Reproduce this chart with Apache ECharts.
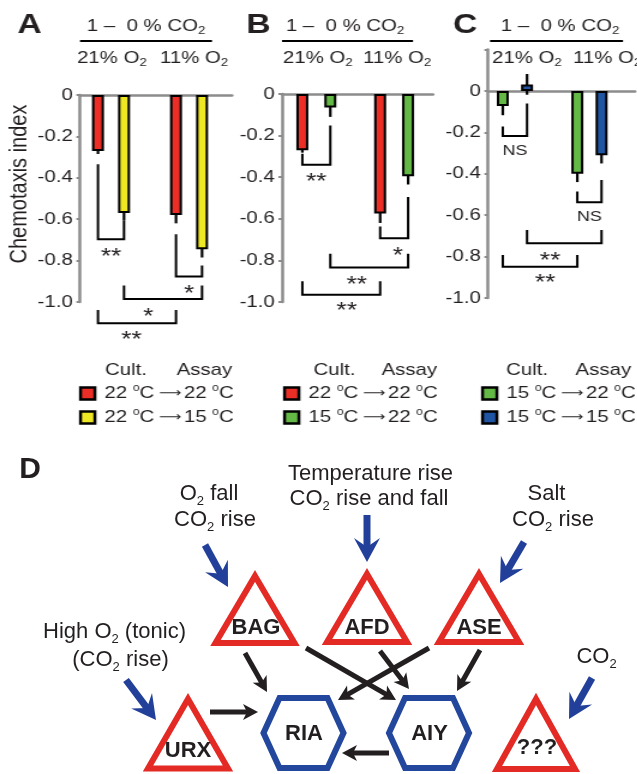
<!DOCTYPE html>
<html><head><meta charset="utf-8">
<script src="https://cdn.jsdelivr.net/npm/echarts/dist/echarts.min.js"></script>
<style>
html,body{margin:0;padding:0;background:#fff;}
#wrap{position:relative;width:637px;height:774px;overflow:hidden;}
#diag{position:absolute;left:0;top:0;width:637px;height:774px;}
#bars{position:absolute;left:0;top:0;width:531px;height:440px;transform:scaleX(1.2);transform-origin:0 0;}
</style>
</head><body><div id="wrap"><div id="diag"></div><div id="bars"></div></div>
<script>
const FONT = "'Liberation Sans', Arial, Helvetica, sans-serif";
const INK = '#231F20';
const S = 1.2;                 // horizontal stretch of panels A-C
const X = px => px / S;

// ================= DATA =================
const groupNames = ['21% O2', '11% O2'];
const NAME_22_22 = '22 °C → 22 °C';
const NAME_22_15 = '22 °C → 15 °C';
const NAME_15_22 = '15 °C → 22 °C';
const NAME_15_15 = '15 °C → 15 °C';

// Panel A
const aRed = [-0.27, -0.58];
const aRedErr = [0.015, 0.04];
const aYellow = [-0.57, -0.745];
const aYellowErr = [0.035, 0.04];
// Panel B
const bRed = [-0.27, -0.575];
const bRedErr = [0.012, 0.045];
const bGreen = [-0.065, -0.395];
const bGreenErr = [0.045, 0.04];
// Panel C
const cGreen = [-0.072, -0.40];
const cGreenErr = [0.045, 0.04];
const cBlue = [0.032, -0.31];
const cBlueErr = [0.05, 0.04];

// significance brackets: [barFrom, barTo, legTopFrom, legTopTo, bottom, labelPos, labelY]
const aBrackets = [[0, 1, -0.335, -0.605, -0.697, 0.5, -0.758],
                   [2, 3, -0.673, -0.824, -0.877, 0.5, -0.937],
                   [1, 3, -0.92, -0.92, -0.986, 0.31, -1.048],
                   [0, 2, -1.039, -1.039, -1.103, 0.43, -1.16]];
const aBracketLabels = ['**', '*', '*', '**'];
const bBrackets = [[0, 1, -0.287, -0.152, -0.34, 0.5, -0.40],
                   [2, 3, -0.637, -0.495, -0.694, 0.63, -0.753],
                   [1, 3, -0.768, -0.768, -0.834, 0.34, -0.893],
                   [0, 2, -0.90, -0.90, -0.965, 0.57, -1.022]];
const bBracketLabels = ['**', '*', '**', '**'];
const cBrackets = [[0, 1, -0.172, -0.06, -0.217, 0.5, -0.29],
                   [2, 3, -0.486, -0.43, -0.538, 0.5, -0.607],
                   [1, 3, -0.671, -0.671, -0.736, 0.31, -0.797],
                   [0, 2, -0.792, -0.792, -0.849, 0.57, -0.904]];
const cBracketLabels = ['NS', 'NS', '**', '**'];

// ================= STYLE =================
const RED = '#EC2E27', YELLOW = '#EEE824', GREEN = '#64B946', BLUE = '#2055A4';
const AXIS_GRAY = '#8C8C8C';
const BAR_W = 10;

const panels = [
  {grid: {left: X(80), top: 95, width: X(232) - X(80), height: 207}, xmin: -0.397, xmax: 1.551, gap: 1.17, ymax: 0,
   series: [{name: NAME_22_22, color: RED, v: aRed, e: aRedErr}, {name: NAME_22_15, color: YELLOW, v: aYellow, e: aYellowErr}],
   brackets: aBrackets, labels: aBracketLabels},
  {grid: {left: X(282), top: 94, width: X(433) - X(282), height: 208}, xmin: -0.441, xmax: 1.5, gap: 1.33, ymax: 0,
   series: [{name: NAME_22_22, color: RED, v: bRed, e: bRedErr}, {name: NAME_15_22, color: GREEN, v: bGreen, e: bGreenErr}],
   brackets: bBrackets, labels: bBracketLabels},
  {grid: {left: X(488), top: 49.6, width: X(635) - X(488), height: 248.4}, xmin: -0.361, xmax: 1.612, gap: 1.02, ymax: 0.2,
   series: [{name: NAME_15_22, color: GREEN, v: cGreen, e: cGreenErr}, {name: NAME_15_15, color: BLUE, v: cBlue, e: cBlueErr}],
   brackets: cBrackets, labels: cBracketLabels}
];

// rich text with subscript segments (odd indices are subscripts)
function subText(x, baseline, segs, fs, o) {
  o = o || {};
  const r = o.r || 0.6, shift = (o.shift == null ? 0.3 : o.shift);
  const H = fs * 1.2;
  const Ls = Math.max(1, H - 2 * fs * (0.347 * (1 - r) + shift));
  const str = segs.map((s, i) => '{' + (i % 2 ? 's' : 'm') + '|' + s + '}').join('');
  return {type: 'text', silent: true, z: 10, style: {
    text: str, x: x, y: baseline - 0.347 * fs, align: o.align || 'center', verticalAlign: 'middle', fill: INK,
    rich: {m: {fontSize: fs, fontFamily: FONT, lineHeight: H, fill: INK},
           s: {fontSize: Math.round(fs * r), fontFamily: FONT, lineHeight: Ls, verticalAlign: 'bottom', fill: INK}}}};
}
function plainText(x, y, text, fs, weight, align) {
  return {type: 'text', silent: true, z: 10, style: {text: text, x: x, y: y, align: align || 'center', verticalAlign: 'middle',
    fill: INK, fontSize: fs, fontFamily: FONT, fontWeight: weight || 'normal'}};
}

// ================= TOP CHART (A-C) =================
const grids = [], xAxes = [], yAxes = [], series = [];
panels.forEach((p, i) => {
  grids.push(p.grid);
  xAxes.push({type: 'value', gridIndex: i, min: p.xmin, max: p.xmax,
    axisLine: {show: true, onZero: true, lineStyle: {color: AXIS_GRAY, width: 2.5}},
    axisTick: {show: false}, axisLabel: {show: false}, splitLine: {show: false}});
  yAxes.push({type: 'value', gridIndex: i, min: -1, max: p.ymax, interval: 0.2,
    axisLine: {show: true, onZero: false, lineStyle: {color: AXIS_GRAY, width: 2.5}},
    axisTick: {show: true, length: 3, lineStyle: {color: AXIS_GRAY, width: 2}},
    splitLine: {show: false},
    axisLabel: {fontSize: 17, fontFamily: FONT, color: INK, margin: 6,
      formatter: v => (v > 0.001 ? '' : (Math.abs(v) < 1e-9 ? '0' : v.toFixed(1)))}});
  const half = BAR_W * (1 + p.gap) / 2;
  const errData = [];
  p.series.forEach((s, j) => {
    series.push({type: 'bar', name: s.name, xAxisIndex: i, yAxisIndex: i, z: 3, silent: true,
      barWidth: BAR_W, barGap: Math.round(p.gap * 100) + '%',
      itemStyle: {color: s.color, borderColor: '#000', borderWidth: 2},
      data: groupNames.map((g, k) => [k, s.v[k]])});
    groupNames.forEach((g, k) => errData.push([k, s.v[k], s.e[k], j ? 1 : -1]));
  });
  // error bars (drawn beneath the bars)
  series.push({type: 'custom', xAxisIndex: i, yAxisIndex: i, z: 2, silent: true, clip: false,
    data: errData,
    renderItem: (params, api) => {
      const gx = api.value(0), v = api.value(1), e = api.value(2), side = api.value(3);
      const x = api.coord([gx, 0])[0] + side * half;
      return {type: 'line', shape: {x1: x, y1: api.coord([gx, v + e])[1], x2: x, y2: api.coord([gx, v - e])[1]},
        style: {stroke: '#000', lineWidth: 2.2}};
    }});
  // significance brackets
  const labels = p.labels;
  series.push({type: 'custom', xAxisIndex: i, yAxisIndex: i, z: 4, silent: true, clip: false,
    data: p.brackets,
    renderItem: (params, api) => {
      const bx = idx => api.coord([Math.floor(idx / 2), 0])[0] + (idx % 2 ? 1 : -1) * half;
      const yc = v => api.coord([0, v])[1];
      const xa = bx(api.value(0)), xb = bx(api.value(1));
      const ya = yc(api.value(2)), yb = yc(api.value(3)), ybot = yc(api.value(4));
      const lab = labels[params.dataIndex];
      const star = lab.indexOf('*') >= 0;
      const fs = star ? 22 : 15;
      return {type: 'group', children: [
        {type: 'polyline', shape: {points: [[xa, ya], [xa, ybot], [xb, ybot], [xb, yb]]},
          style: {stroke: '#000', lineWidth: 2, fill: null}},
        {type: 'text', style: {text: lab, x: xa + (xb - xa) * api.value(5), y: yc(api.value(6)) + (star ? 0.22 * fs : 0),
          align: 'center', verticalAlign: 'middle', fill: INK, fontSize: fs, fontFamily: FONT}}
      ]};
    }});
});

// legends
const legendRich = {
  p: {fontSize: 10, fontFamily: FONT, color: INK, lineHeight: 20 - 0.532 * 17, verticalAlign: 'top'},
  a: {fontSize: 13, fontFamily: "'DejaVu Sans', sans-serif", color: INK, padding: [0, 2, 0, 4]}
};
function mkLegend(names, leftPx) {
  return {data: names, orient: 'vertical', left: X(leftPx), top: 383.5, padding: 0, itemGap: 4,
    itemWidth: 12, itemHeight: 12, icon: 'rect', selectedMode: false,
    itemStyle: {borderColor: '#000', borderWidth: 2.5},
    textStyle: {fontSize: 17, fontFamily: FONT, color: INK, lineHeight: 20, padding: [0, 0, 0, 3], rich: legendRich},
    formatter: n => n.replace(/°/g, '{p|o}').replace(' → ', '{a|⟶}')};
}

const topGraphic = [];
// panel letters
[['A', 29.5], ['B', 258.5], ['C', 465]].forEach(([t, x]) => topGraphic.push(plainText(X(x), 25, t, 28, 'bold')));
// headers
[[146, 80, 212], [345, 282, 413], [560, 490, 623]].forEach(([cx, l, r]) => {
  topGraphic.push(subText(X(cx), 32, ['1 –  0 % CO', '2'], 17, {shift: 0.08, r: 0.62}));
  topGraphic.push({type: 'line', silent: true, shape: {x1: X(l), y1: 41, x2: X(r), y2: 41}, style: {stroke: '#000', lineWidth: 2}});
});
[[77, 160], [283, 363], [492, 573]].forEach(([a, b]) => {
  topGraphic.push(subText(X(a), 64, ['21% O', '2'], 17, {shift: 0.17, r: 0.62, align: 'left'}));
  topGraphic.push(subText(X(b), 64, ['11% O', '2'], 17, {shift: 0.17, r: 0.62, align: 'left'}));
});
// axis title
topGraphic.push({type: 'text', silent: true, x: X(20), y: 184, rotation: Math.PI / 2,
  style: {text: 'Chemotaxis index', x: 0, y: 0, align: 'center', verticalAlign: 'middle', fill: INK, fontSize: 20, fontFamily: FONT}});
// legend headers
[[105, 176.7], [313.5, 381.6], [506, 575.5]].forEach(([a, b]) => {
  topGraphic.push(plainText(X(a), 370, 'Cult.', 17, 'normal', 'left'));
  topGraphic.push(plainText(X(b), 370, 'Assay', 17, 'normal', 'left'));
});

const topChart = echarts.init(document.getElementById('bars'), null, {renderer: 'canvas'});
topChart.setOption({
  animation: false,
  grid: grids, xAxis: xAxes, yAxis: yAxes, series: series,
  legend: [mkLegend([NAME_22_22, NAME_22_15], 79), mkLegend([NAME_22_22, NAME_15_22], 283), mkLegend([NAME_15_22, NAME_15_15], 481)],
  graphic: topGraphic
});

// ================= DIAGRAM (D) =================
const TRI_RED = '#E42A24', HEX_BLUE = '#22479C', ARROW_BLUE = '#22409A', K = '#231F20';
const g = [];
function arrow(x1, y1, x2, y2, color, w, hl, hw, notch) {
  const L = Math.hypot(x2 - x1, y2 - y1), ux = (x2 - x1) / L, uy = (y2 - y1) / L, nx = -uy, ny = ux;
  const bx = x2 - ux * hl, by = y2 - uy * hl;
  const endD = notch * 0.75;
  g.push({type: 'line', silent: true, shape: {x1: x1, y1: y1, x2: x2 - ux * endD, y2: y2 - uy * endD}, style: {stroke: color, lineWidth: w}});
  g.push({type: 'polygon', silent: true, shape: {points: [[x2, y2], [bx + nx * hw, by + ny * hw], [x2 - ux * notch, y2 - uy * notch], [bx - nx * hw, by - ny * hw]]},
    style: {fill: color}});
}
function tri(cx, apexY, baseY, hb) {
  g.push({type: 'polygon', silent: true, shape: {points: [[cx, apexY], [cx + hb, baseY], [cx - hb, baseY]]},
    style: {fill: '#fff', stroke: TRI_RED, lineWidth: 6, lineJoin: 'miter'}});
}
function hex(cx, cy) {
  g.push({type: 'polygon', silent: true, shape: {points: [[cx - 40, cy], [cx - 24, cy - 35], [cx + 24, cy - 35], [cx + 40, cy], [cx + 24, cy + 35], [cx - 24, cy + 35]]},
    style: {fill: '#fff', stroke: HEX_BLUE, lineWidth: 6, lineJoin: 'miter'}});
}
// blue input arrows
arrow(205, 545, 228, 587, ARROW_BLUE, 7, 24, 13, 15);
arrow(367, 515, 367, 562, ARROW_BLUE, 7, 24, 13, 15);
arrow(524, 542, 500, 583, ARROW_BLUE, 7, 24, 13, 15);
arrow(126, 680, 156, 720, ARROW_BLUE, 7, 24, 13, 15);
arrow(592, 678, 569, 719, ARROW_BLUE, 7, 24, 13, 15);
// sensory neurons
tri(255, 576, 643, 39.5);
tri(367, 574, 642, 40);
tri(479, 574, 642, 40);
tri(188, 699, 768.5, 40);
tri(536, 699, 769, 39);
// interneurons
hex(303.5, 733);
hex(429, 733);
// black connections
arrow(245, 653, 267, 692, K, 5, 15, 8, 11);
arrow(306, 648, 396, 700, K, 5, 15, 8, 11);
arrow(380, 651, 409, 689, K, 5, 15, 8, 11);
arrow(429, 648, 338, 700, K, 5, 15, 8, 11);
arrow(480, 650, 457, 691, K, 5, 15, 8, 11);
arrow(210, 712, 258, 712, K, 5, 15, 8, 11);
arrow(389, 753, 342, 753, K, 5, 15, 8, 11);
// node labels
[['BAG', 256, 628], ['AFD', 367, 627.5], ['ASE', 479, 627.5], ['URX', 188, 750.5], ['???', 537, 748], ['RIA', 304, 734], ['AIY', 429.5, 733.5]]
  .forEach(([t, x, y]) => g.push(plainText(x, y, t, 22, 'bold')));
// stimulus labels
g.push(plainText(30, 469.3, 'D', 30, 'bold'));
g.push(subText(370.5, 482, ['Temperature rise'], 22));
g.push(subText(369, 507, ['CO', '2', ' rise and fall'], 22));
g.push(subText(209, 502, ['O', '2', ' fall'], 22));
g.push(subText(215, 528, ['CO', '2', ' rise'], 22));
g.push(subText(546.5, 502, ['Salt'], 22));
g.push(subText(553, 528, ['CO', '2', ' rise'], 22));
g.push(subText(114.5, 640, ['High O', '2', ' (tonic)'], 22));
g.push(subText(120.5, 668, ['(CO', '2', ' rise)'], 22));
g.push(subText(596.5, 665, ['CO', '2'], 22));

const diagChart = echarts.init(document.getElementById('diag'), null, {renderer: 'canvas'});
diagChart.setOption({animation: false, graphic: g});
</script>
</body></html>
